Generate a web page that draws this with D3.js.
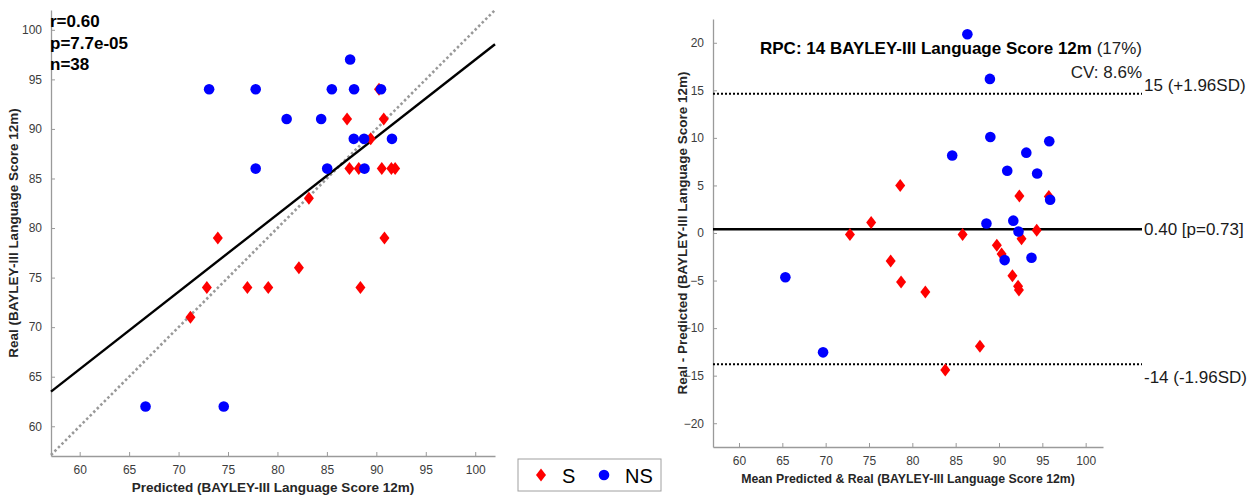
<!DOCTYPE html>
<html lang="en">

<head>
    <meta charset="UTF-8">
    <title>BAYLEY-III Language Score 12m</title>
    <style>
        body { margin: 0; background: #fff; }
        text { font-family: Arial, "Liberation Sans", sans-serif; }
    </style>
</head>

<body>
    <script src="https://cdn.jsdelivr.net/npm/d3@7"></script>
    <script>
        // left panel: predicted vs real
        const predS = [90.27, 87.04, 90.75, 89.43, 87.28, 88.22, 90.55, 91.52, 91.9, 73.97, 90.82, 83.18, 82.17, 72.86, 76.96, 79.07, 88.39, 71.2];
        const realS = [94, 91, 91, 89, 86, 86, 86, 86, 86, 79, 79, 83, 76, 74, 74, 74, 74, 71];
        const predNS = [73.09, 77.8, 85.5, 87.75, 90.47, 87.35, 80.93, 84.42, 87.72, 88.76, 91.58, 77.8, 85.03, 88.8, 66.66, 74.57];
        const realNS = [94, 94, 94, 94, 94, 97, 91, 91, 89, 89, 89, 86, 86, 86, 62, 62];
        const fitLine = [[57.1, 63.5], [102, 98.55]];
        const statLines = ['r=0.60', 'p=7.7e-05', 'n=38'];

        // right panel: Bland-Altman
        const meanS = [78.6, 75.25, 72.8, 77.5, 78.7, 81.5, 85.8, 83.8, 87.8, 92.35, 95.75, 92.6, 94.35, 89.75, 90.3, 91.55, 92.2, 92.3];
        const diffS = [5.0, 1.1, -0.15, -2.95, -5.15, -6.2, -0.15, -14.4, -11.9, 3.9, 3.85, -0.6, 0.3, -1.3, -2.2, -4.5, -5.6, -6.0];
        const meanNS = [86.35, 88.95, 89.0, 95.8, 84.6, 93.15, 90.95, 94.4, 95.9, 88.55, 91.65, 92.25, 90.65, 93.75, 65.35, 69.7];
        const diffNS = [20.9, 16.2, 10.1, 9.65, 8.15, 8.45, 6.55, 6.25, 3.5, 1.0, 1.3, 0.15, -2.85, -2.6, -4.65, -12.55];
        const meanDiff = 0.40, upperLoA = 14.65, lowerLoA = -13.8;
        const loaLabels = ['15 (+1.96SD)', '0.40 [p=0.73]', '-14 (-1.96SD)'];

        const xTicks = [60, 65, 70, 75, 80, 85, 90, 95, 100];
        const yTicksL = [60, 65, 70, 75, 80, 85, 90, 95, 100];
        const yTicksR = [-20, -15, -10, -5, 0, 5, 10, 15, 20];

        const w = 1252, h = 496;
        const axisCol = '#9a9a9a', tickCol = '#3c3c3c';

        const svg = d3.select('body').append('svg')
            .attr('width', w)
            .attr('height', h);

        function drawAxes(g, x, y, yTicks) {
            const xa = g.append('g')
                .attr('transform', `translate(0,${y.range()[0]})`)
                .call(d3.axisBottom(x).tickValues(xTicks).tickSizeInner(-4).tickSizeOuter(0).tickPadding(9));
            const ya = g.append('g')
                .attr('transform', `translate(${x.range()[0]},0)`)
                .call(d3.axisLeft(y).tickValues(yTicks).tickSizeInner(-4).tickSizeOuter(0).tickPadding(9));
            [xa, ya].forEach(a => {
                a.select('.domain').attr('stroke', axisCol).attr('stroke-width', 1.3);
                a.selectAll('.tick line').attr('stroke', axisCol);
                a.selectAll('.tick text').attr('fill', tickCol).attr('font-size', 12)
                    .style('font-family', 'Arial, "Liberation Sans", sans-serif');
            });
        }

        function diamond(g, pts, x, y) {
            g.selectAll(null).data(pts).enter().append('path')
                .attr('d', d => {
                    const cx = x(d[0]), cy = y(d[1]);
                    return `M${cx},${cy - 6.5}L${cx + 5},${cy}L${cx},${cy + 6.5}L${cx - 5},${cy}Z`;
                })
                .attr('fill', '#ff0000');
        }

        function dots(g, pts, x, y) {
            g.selectAll(null).data(pts).enter().append('circle')
                .attr('cx', d => x(d[0]))
                .attr('cy', d => y(d[1]))
                .attr('r', 5.3)
                .attr('fill', '#0000ff');
        }

        // ---- left panel
        const xL = d3.scaleLinear().domain([57.1, 102]).range([51, 495]);
        const yL = d3.scaleLinear().domain([57, 102]).range([456, 10]);
        const gL = svg.append('g');
        drawAxes(gL, xL, yL, yTicksL);

        gL.append('line')
            .attr('x1', xL(57.1)).attr('y1', yL(57.1))
            .attr('x2', xL(102)).attr('y2', yL(102))
            .attr('stroke', '#999').attr('stroke-width', 2.6)
            .attr('stroke-dasharray', '2.5,2.5');
        gL.append('line')
            .attr('x1', xL(fitLine[0][0])).attr('y1', yL(fitLine[0][1]))
            .attr('x2', xL(fitLine[1][0])).attr('y2', yL(fitLine[1][1]))
            .attr('stroke', '#000').attr('stroke-width', 2.4);

        diamond(gL, d3.zip(predS, realS), xL, yL);
        dots(gL, d3.zip(predNS, realNS), xL, yL);

        gL.selectAll('.stat').data(statLines).enter().append('text')
            .attr('x', 50)
            .attr('y', (d, i) => 27 + i * 21.5)
            .attr('font-size', 17).attr('font-weight', 'bold')
            .text(d => d);

        gL.append('text')
            .attr('x', 273)
            .attr('y', 492)
            .attr('text-anchor', 'middle')
            .attr('font-size', 13.5).attr('font-weight', 'bold').attr('fill', '#262626')
            .text('Predicted (BAYLEY-III Language Score 12m)');
        gL.append('text')
            .attr('transform', `translate(18,${(yL.range()[0] + yL.range()[1]) / 2}) rotate(-90)`)
            .attr('text-anchor', 'middle')
            .attr('font-size', 13.5).attr('font-weight', 'bold').attr('fill', '#262626')
            .text('Real (BAYLEY-III Language Score 12m)');

        // ---- right panel
        const xR = d3.scaleLinear().domain([57, 102]).range([713, 1103]);
        const yR = d3.scaleLinear().domain([-22.5, 22.5]).range([447, 19]);
        const gR = svg.append('g');
        drawAxes(gR, xR, yR, yTicksR);

        const lineEnd = xR.range()[1] + 39;
        [upperLoA, lowerLoA].forEach(v => {
            gR.append('line')
                .attr('x1', xR.range()[0]).attr('x2', lineEnd)
                .attr('y1', yR(v)).attr('y2', yR(v))
                .attr('stroke', '#000').attr('stroke-width', 2)
                .attr('stroke-dasharray', '2,2');
        });
        gR.append('line')
            .attr('x1', xR.range()[0]).attr('x2', lineEnd)
            .attr('y1', yR(meanDiff)).attr('y2', yR(meanDiff))
            .attr('stroke', '#000').attr('stroke-width', 2.4);

        diamond(gR, d3.zip(meanS, diffS), xR, yR);
        dots(gR, d3.zip(meanNS, diffNS), xR, yR);

        const labelY = [yR(upperLoA) - 3, yR(meanDiff) + 6, yR(lowerLoA) + 19];
        gR.selectAll('.loa').data(loaLabels).enter().append('text')
            .attr('x', lineEnd + 2)
            .attr('y', (d, i) => labelY[i])
            .attr('font-size', 17).attr('fill', '#1a1a1a')
            .text(d => d);

        const title = gR.append('text')
            .attr('x', lineEnd).attr('y', 54)
            .attr('text-anchor', 'end')
            .attr('font-size', 17);
        title.append('tspan').attr('font-weight', 'bold').text('RPC: 14 BAYLEY-III Language Score 12m ');
        title.append('tspan').attr('fill', '#222').text('(17%)');
        gR.append('text')
            .attr('x', lineEnd).attr('y', 78)
            .attr('text-anchor', 'end')
            .attr('font-size', 17).attr('fill', '#222')
            .text('CV: 8.6%');

        gR.append('text')
            .attr('x', 908)
            .attr('y', 483)
            .attr('text-anchor', 'middle')
            .attr('font-size', 12.3).attr('font-weight', 'bold').attr('fill', '#262626')
            .text('Mean Predicted & Real (BAYLEY-III Language Score 12m)');
        gR.append('text')
            .attr('transform', `translate(687,${(yR.range()[0] + yR.range()[1]) / 2}) rotate(-90)`)
            .attr('text-anchor', 'middle')
            .attr('font-size', 13.5).attr('font-weight', 'bold').attr('fill', '#262626')
            .text('Real - Predicted (BAYLEY-III Language Score 12m)');

        // ---- legend
        const lg = svg.append('g').attr('transform', 'translate(518,459)');
        lg.append('rect')
            .attr('width', 143).attr('height', 32)
            .attr('fill', '#fff').attr('stroke', '#a0a0a0');
        diamond(lg, [[23, 16]], d => d, d => d);
        lg.append('text').attr('x', 44).attr('y', 23.5).attr('font-size', 20).text('S');
        dots(lg, [[86, 16]], d => d, d => d);
        lg.append('text').attr('x', 107).attr('y', 23.5).attr('font-size', 20).text('NS');
    </script>
</body>

</html>
